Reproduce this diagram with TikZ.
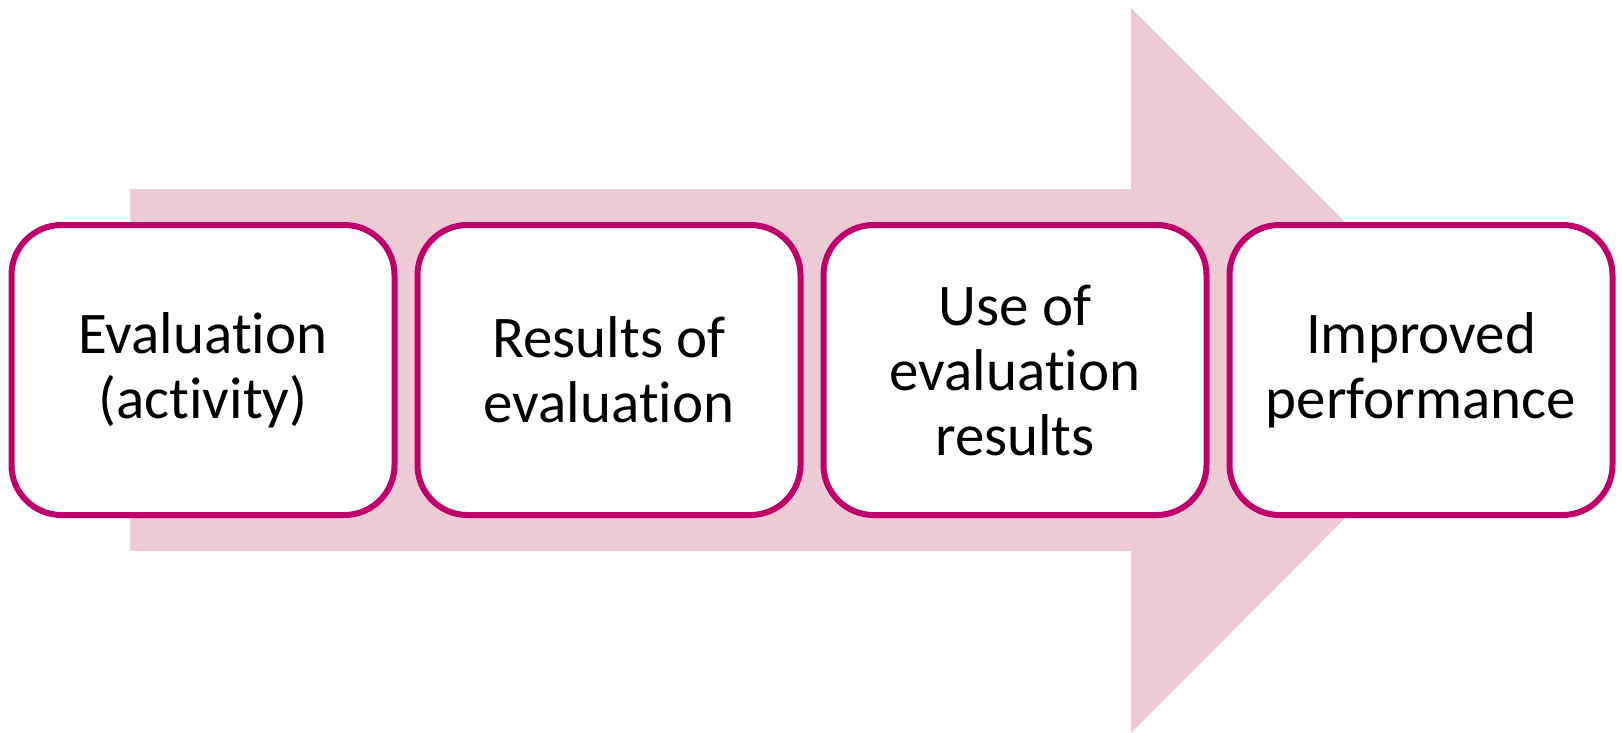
\documentclass[tikz,border=0pt]{standalone}
\usepackage{fontspec}
\setmainfont{Carlito}[RawFeature={-liga;-clig;-calt;-dlig}]
\usetikzlibrary{positioning}
\definecolor{boxline}{RGB}{192,0,106}
\definecolor{arrowfill}{RGB}{237,203,213}

\begin{document}
\begin{tikzpicture}[x=0.5pt, y=-0.5pt,
		stepbox/.style={rectangle,rounded corners=25pt,draw=boxline,line width=3pt,
		fill=white,minimum width=191.5pt,minimum height=145pt,inner sep=0pt,outer sep=0pt,
		align=center,font=\fontsize{29.5pt}{32.5pt}\selectfont}
		]
		\useasboundingbox (0,0) rectangle (1622,733);

		% big background arrow
		\fill[arrowfill] (130,189) -- (1131,189) -- (1131,8) -- (1493,370)
			-- (1131,733) -- (1131,551) -- (130,551) -- cycle;

		\node[stepbox](B0) at (203,370){Evaluation\\(activity)};
		\node[stepbox, right = 11.5pt of B0](B1){Results of\\evaluation};
		\node[stepbox, right = 11.5pt of B1](B2){Use of\\evaluation\\results};
		\node[stepbox, right = 11.5pt of B2](B3){Improved\\performance};
	\end{tikzpicture}
\end{document}
